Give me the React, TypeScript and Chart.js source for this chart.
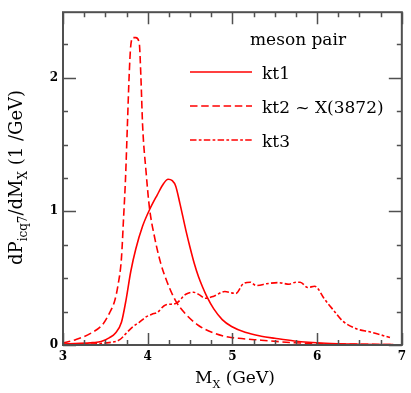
import { useEffect, useRef } from 'react';
import { Chart, registerables } from 'chart.js';

Chart.register(...registerables);

// ---- data ----
const kt1Mass = [3.0, 3.2, 3.35, 3.45, 3.55, 3.62, 3.69, 3.745, 3.8, 3.86, 3.94, 4.02, 4.11, 4.19, 4.24, 4.29, 4.33, 4.38, 4.45, 4.5, 4.55, 4.6, 4.65, 4.7, 4.78, 4.88, 4.99, 5.15, 5.34, 5.5, 5.73, 6.1, 6.5, 6.9];
const kt1Value = [0.008, 0.012, 0.018, 0.026, 0.055, 0.09, 0.17, 0.34, 0.55, 0.72, 0.89, 1.01, 1.12, 1.21, 1.24, 1.23, 1.19, 1.06, 0.86, 0.73, 0.61, 0.51, 0.43, 0.36, 0.27, 0.19, 0.138, 0.095, 0.066, 0.05, 0.03, 0.013, 0.006, 0.003];

const kt2Mass = [3.0, 3.15, 3.32, 3.47, 3.55, 3.61, 3.65, 3.69, 3.715, 3.737, 3.76, 3.78, 3.8, 3.83, 3.86, 3.9, 3.92, 3.94, 3.98, 4.02, 4.08, 4.15, 4.23, 4.33, 4.45, 4.6, 4.8, 4.95, 5.07, 5.34, 5.73, 6.2, 6.9];
const kt2Value = [0.015, 0.04, 0.085, 0.155, 0.24, 0.33, 0.45, 0.65, 0.95, 1.23, 1.64, 2.0, 2.24, 2.3, 2.3, 2.26, 2.0, 1.64, 1.3, 1.03, 0.81, 0.62, 0.47, 0.33, 0.23, 0.146, 0.085, 0.06, 0.05, 0.036, 0.017, 0.008, 0.003];

const kt3Mass = [3.0, 3.3, 3.5, 3.67, 3.75, 3.82, 3.9, 3.98, 4.05, 4.115, 4.21, 4.33, 4.45, 4.54, 4.61, 4.68, 4.78, 4.91, 4.99, 5.04, 5.13, 5.21, 5.28, 5.42, 5.54, 5.67, 5.75, 5.8, 5.89, 5.97, 6.0, 6.08, 6.2, 6.3, 6.47, 6.63, 6.86];
const kt3Value = [0.003, 0.006, 0.015, 0.04, 0.09, 0.134, 0.17, 0.21, 0.23, 0.245, 0.3, 0.31, 0.38, 0.395, 0.375, 0.35, 0.365, 0.4, 0.39, 0.385, 0.46, 0.47, 0.445, 0.46, 0.467, 0.455, 0.47, 0.47, 0.43, 0.44, 0.43, 0.35, 0.255, 0.18, 0.12, 0.097, 0.056];

const seriesNames = ['kt1', 'kt2 ~ X(3872)', 'kt3'];
const legendTitle = 'meson pair';
const xRange = [3, 7];
const yRange = [0, 2.49];
const minorStep = 0.25;

const RED = '#ff0000';
const FRAME = '#505050';
const SERIF = '"DejaVu Serif", serif';
const DASHES: number[][] = [[], [7.5, 3.7], [6.5, 2.3, 2.7, 2.3]];

type Seg = { t: string; sub?: boolean };

function drawSegs(ctx: CanvasRenderingContext2D, segs: Seg[], x: number, y: number, big: number, small: number) {
  let cx = x;
  for (const s of segs) {
    ctx.font = `${s.sub ? small : big}px ${SERIF}`;
    ctx.fillText(s.t, cx, s.sub ? y + 5 : y);
    cx += ctx.measureText(s.t).width;
  }
}

const framePlugin = {
  id: 'framePlugin',
  afterDraw(chart: any) {
    const { ctx, chartArea: a, scales } = chart;
    const xs = scales.x;
    const ys = scales.y;
    ctx.save();
    // ticks
    ctx.strokeStyle = FRAME;
    ctx.lineWidth = 1.5;
    ctx.beginPath();
    for (let v = xRange[0]; v <= xRange[1] + 1e-9; v += minorStep) {
      const p = Math.round(xs.getPixelForValue(v)) + 0.5;
      const len = Math.abs(v - Math.round(v)) < 1e-6 ? 12 : 5;
      ctx.moveTo(p, a.bottom);
      ctx.lineTo(p, a.bottom - len);
      ctx.moveTo(p, a.top);
      ctx.lineTo(p, a.top + len);
    }
    for (let v = yRange[0]; v <= yRange[1] + 1e-9; v += minorStep) {
      const p = Math.round(ys.getPixelForValue(v)) + 0.5;
      const len = Math.abs(v - Math.round(v)) < 1e-6 ? 13 : 5;
      ctx.moveTo(a.left, p);
      ctx.lineTo(a.left + len, p);
      ctx.moveTo(a.right, p);
      ctx.lineTo(a.right - len, p);
    }
    ctx.stroke();
    // frame
    ctx.lineWidth = 2;
    ctx.strokeRect(a.left, a.top, a.right - a.left, a.bottom - a.top);

    // legend
    ctx.fillStyle = '#000';
    ctx.textBaseline = 'alphabetic';
    ctx.font = `17px ${SERIF}`;
    ctx.fillText(legendTitle, 250, 45);
    seriesNames.forEach((name, i) => {
      const ly = 72 + i * 34;
      ctx.strokeStyle = RED;
      ctx.lineWidth = 1.6;
      ctx.setLineDash(DASHES[i]);
      ctx.beginPath();
      ctx.moveTo(190, ly);
      ctx.lineTo(252, ly);
      ctx.stroke();
      ctx.setLineDash([]);
      ctx.fillStyle = '#000';
      ctx.font = `17px ${SERIF}`;
      ctx.fillText(name, 262, ly + 7);
    });

    // x title
    drawSegs(ctx, [{ t: 'M' }, { t: 'X', sub: true }, { t: ' (GeV)' }], 195, 383, 17, 11);
    // y title
    ctx.save();
    ctx.translate(22, 265);
    ctx.rotate(-Math.PI / 2);
    drawSegs(ctx, [{ t: 'dP' }, { t: 'icq7', sub: true }, { t: '/dM' }, { t: 'X', sub: true }, { t: ' (1 /GeV)' }], 0, 0, 18, 12);
    ctx.restore();
    ctx.restore();
  },
};

export default function App() {
  const ref = useRef<HTMLCanvasElement | null>(null);
  useEffect(() => {
    document.body.style.margin = '0';
    const canvas = ref.current;
    if (!canvas) return;
    const mk = (xs: number[], ys: number[]) => xs.map((x, i) => ({ x, y: ys[i] }));
    const chart = new Chart(canvas, {
      type: 'line',
      data: {
        datasets: [
          { label: seriesNames[0], data: mk(kt1Mass, kt1Value), borderDash: DASHES[0] },
          { label: seriesNames[1], data: mk(kt2Mass, kt2Value), borderDash: DASHES[1] },
          { label: seriesNames[2], data: mk(kt3Mass, kt3Value), borderDash: DASHES[2] },
        ].map((d) => ({
          ...d,
          borderColor: RED,
          borderWidth: 1.6,
          pointRadius: 0,
          fill: false,
          cubicInterpolationMode: 'monotone' as const,
        })),
      },
      options: {
        animation: false,
        responsive: false,
        maintainAspectRatio: false,
        layout: { padding: { top: 4, right: 6, left: 0, bottom: 0 } },
        plugins: { legend: { display: false }, tooltip: { enabled: false } },
        scales: {
          x: {
            type: 'linear',
            min: xRange[0],
            max: xRange[1],
            grid: { display: false, drawTicks: false },
            border: { display: false },
            ticks: {
              stepSize: 1,
              autoSkip: false,
              maxRotation: 0,
              padding: 5,
              color: '#000',
              font: { family: SERIF, size: 12, weight: 'bold' },
            },
            afterFit: (s: any) => { s.height = 48; },
          },
          y: {
            type: 'linear',
            min: yRange[0],
            max: yRange[1],
            grid: { display: false, drawTicks: false },
            border: { display: false },
            ticks: {
              stepSize: 1,
              includeBounds: false,
              padding: 5,
              color: '#000',
              font: { family: SERIF, size: 12, weight: 'bold' },
            },
            afterFit: (s: any) => { s.width = 63; },
          },
        },
      },
      plugins: [framePlugin],
    });
    return () => chart.destroy();
  }, []);
  return <canvas ref={ref} width={411} height={393} style={{ display: 'block', width: 411, height: 393 }} />;
}
